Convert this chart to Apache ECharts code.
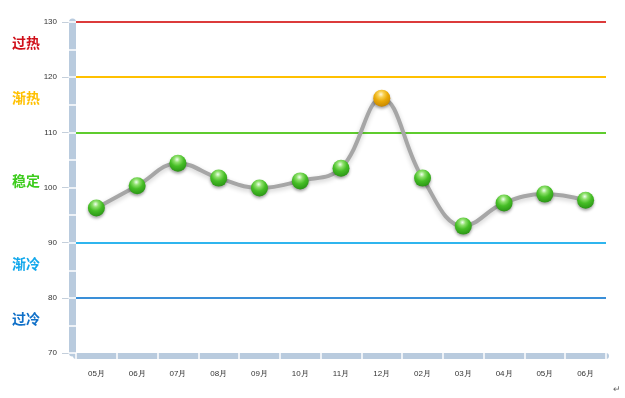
<!DOCTYPE html>
<html>
<head>
<meta charset="utf-8">
<script src="https://cdn.jsdelivr.net/npm/echarts@6/dist/echarts.min.js"></script>
<style>
  html, body { margin: 0; padding: 0; background: #fff; }
  #chart { width: 625px; height: 398px; }
</style>
</head>
<body>
<div id="chart"></div>
<script>
// 月份（横轴）
const months = ['05月', '06月', '07月', '08月', '09月', '10月', '11月', '12月', '02月', '03月', '04月', '05月', '06月']
// 指数值
const values = [96.3, 100.3, 104.4, 101.7, 99.9, 101.2, 103.5, 116.2, 101.7, 93.0, 97.2, 98.8, 97.7]
// 分界线
const levelValues = [130, 120, 110, 90, 80]
const levelColors = ['#dc3b3b', '#ffc000', '#5fcc2e', '#2fb5ee', '#3a8fd8']
// 区间名称
const zoneNames = ['过热', '渐热', '稳定', '渐冷', '过冷']
const zoneValues = [125, 115, 100, 85, 75]
const zoneColors = ['#d0101a', '#ffc000', '#3ccc1c', '#12a8ec', '#1070c8']

const wallColor = '#b9cbde'
const font = 'Liberation Sans, Arial, sans-serif'
const cjk = 'Noto Sans CJK SC, sans-serif'

// 高光小球
const greenBall = new echarts.graphic.RadialGradient(0.45, 0.28, 0.8, [
  { offset: 0, color: '#f0fff0' },
  { offset: 0.22, color: '#8ee06c' },
  { offset: 0.5, color: '#46be26' },
  { offset: 0.85, color: '#2e9a18' },
  { offset: 1, color: '#1f7410' }
])
const goldBall = new echarts.graphic.RadialGradient(0.45, 0.28, 0.8, [
  { offset: 0, color: '#fff8dc' },
  { offset: 0.22, color: '#f8d050' },
  { offset: 0.5, color: '#eaaa08' },
  { offset: 0.85, color: '#cc8c00' },
  { offset: 1, color: '#a06800' }
])

const rich = {}
zoneNames.forEach((n, i) => {
  rich['z' + i] = { color: zoneColors[i], fontSize: 14, fontWeight: 'bold', fontFamily: cjk, lineHeight: 14 }
})

const chart = echarts.init(document.getElementById('chart'))

chart.setOption({
  animation: false,
  grid: { left: 76, right: 19, top: 22, bottom: 45, outerBoundsMode: 'none' },
  xAxis: [
    {
      type: 'category',
      data: months,
      boundaryGap: true,
      position: 'bottom',
      offset: 3,
      axisLine: { show: true, lineStyle: { color: wallColor, width: 6 } },
      axisTick: { show: true, inside: true, length: 3, lineStyle: { color: '#fff', width: 1.5 } },
      axisLabel: { fontSize: 8, color: '#333', margin: 14, fontFamily: font },
      splitLine: { show: false }
    },
    {
      type: 'category',
      data: months,
      position: 'bottom',
      offset: 3,
      axisLine: { show: false },
      axisTick: { show: true, length: 3, lineStyle: { color: '#fff', width: 1.5 } },
      axisLabel: { show: false },
      splitLine: { show: false }
    }
  ],
  yAxis: [
    {
      type: 'value', min: 70, max: 130, interval: 10,
      position: 'left',
      offset: 7,
      axisLine: { show: false },
      axisTick: { show: true, length: 7, lineStyle: { color: '#c4cfdb' } },
      axisLabel: { fontSize: 8, color: '#333', margin: 12, fontFamily: font },
      splitLine: { show: false }
    },
    {
      type: 'value', min: 70, max: 130, interval: 5,
      position: 'left',
      offset: 3.5,
      axisLine: { show: true, lineStyle: { color: wallColor, width: 7 } },
      axisTick: { show: true, inside: true, length: 4, lineStyle: { color: '#fff', width: 1.5 } },
      axisLabel: { show: false },
      splitLine: { show: false }
    },
    {
      type: 'value', min: 70, max: 130, interval: 5,
      position: 'left',
      offset: 3.5,
      axisLine: { show: false },
      axisTick: { show: true, length: 4, lineStyle: { color: '#fff', width: 1.5 } },
      axisLabel: { show: false },
      splitLine: { show: false }
    },
    {
      type: 'value', min: 70, max: 130,
      position: 'left',
      axisLine: { show: false },
      axisTick: { show: false },
      splitLine: { show: false },
      axisLabel: {
        customValues: zoneValues,
        margin: 36,
        verticalAlign: 'bottom',
        formatter: v => {
          const i = zoneValues.indexOf(v)
          return i < 0 ? '' : '{z' + i + '|' + zoneNames[i] + '}'
        },
        rich: rich
      }
    }
  ],
  series: [
    {
      type: 'line',
      data: values.map(v => ({
        value: v,
        itemStyle: { color: v > 110 ? goldBall : greenBall }
      })),
      smooth: 0.4,
      symbol: 'circle',
      symbolSize: 17,
      lineStyle: {
        color: '#a6a6a6', width: 4,
        shadowColor: 'rgba(0,0,0,0.2)', shadowBlur: 5, shadowOffsetY: 2
      },
      itemStyle: {
        shadowColor: 'rgba(0,0,0,0.35)', shadowBlur: 3, shadowOffsetY: 2
      },
      z: 5,
      markLine: {
        silent: true,
        symbol: 'none',
        label: { show: false },
        data: levelValues.map((v, i) => ({
          yAxis: v,
          lineStyle: { color: levelColors[i], width: 2, type: 'solid' }
        }))
      }
    }
  ],
  graphic: [
    {
      type: 'text', right: 4, bottom: 4,
      style: { text: '↵', fill: '#666', fontSize: 9, fontFamily: font }
    }
  ]
})
</script>
</body>
</html>
